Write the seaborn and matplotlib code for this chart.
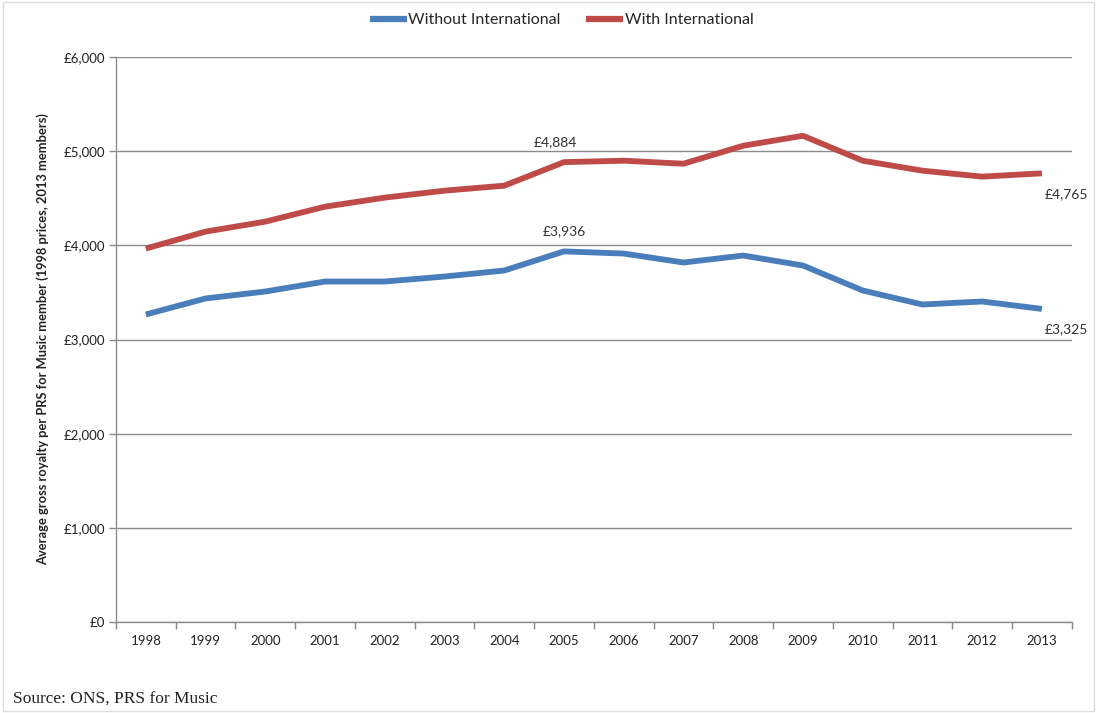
import matplotlib
matplotlib.use("Agg")
import matplotlib.pyplot as plt
from matplotlib.patches import Rectangle
from matplotlib.ticker import FuncFormatter, MultipleLocator
import seaborn as sns
import pandas as pd

years = list(range(1998, 2014))
without_intl = [3266, 3436, 3510, 3616, 3616, 3669, 3733, 3936,
                3913, 3818, 3892, 3786, 3521, 3372, 3404, 3325]
with_intl = [3966, 4146, 4252, 4411, 4507, 4581, 4634, 4884,
             4899, 4867, 5058, 5164, 4899, 4793, 4730, 4765]
series_names = ["Without International", "With International"]
colors = {"Without International": "#4a7ebb", "With International": "#be4b48"}

df = pd.concat([
    pd.DataFrame({"Year": years, "Royalty": without_intl, "Series": series_names[0]}),
    pd.DataFrame({"Year": years, "Royalty": with_intl, "Series": series_names[1]}),
])

sns.set_theme(style="white")
plt.rcParams["font.family"] = ["Lato", "DejaVu Sans"]

fig = plt.figure(figsize=(10.97, 7.13), dpi=100)
ax = fig.add_axes([0.1057, 0.1276, 0.8713, 0.7924])

sns.lineplot(data=df, x="Year", y="Royalty", hue="Series", palette=colors,
             linewidth=4.2, ax=ax, legend=False, solid_capstyle="butt")

ax.set_xlim(1997.5, 2013.5)
ax.set_ylim(0, 6000)
ax.yaxis.set_major_locator(MultipleLocator(1000))
ax.yaxis.set_major_formatter(FuncFormatter(lambda v, p: f"£{int(v):,}"))
ax.set_xticks(years)
ax.set_xticklabels([str(y) for y in years])
ax.xaxis.set_minor_locator(MultipleLocator(1, offset=0.5))
ax.tick_params(axis="x", which="major", length=0, pad=9, labelsize=9.5, colors="#222222")
ax.tick_params(axis="x", which="minor", bottom=True, length=5, width=1, color="#888888")
ax.tick_params(axis="y", which="major", left=True, length=5, width=1, color="#888888",
               labelsize=9.5, colors="#222222", pad=3)
ax.grid(axis="y", color="#8c8c8c", linewidth=1)
ax.set_axisbelow(True)
for side in ["top", "right"]:
    ax.spines[side].set_visible(False)
for side in ["left", "bottom"]:
    ax.spines[side].set_color("#8c8c8c")
    ax.spines[side].set_linewidth(1)

ax.set_xlabel("")
ax.set_ylabel("Average gross royalty per PRS for Music member (1998 prices, 2013 members)",
              fontsize=9.3, fontweight="bold", color="#222222", labelpad=10)

i05 = years.index(2005)
ax.annotate(f"£{with_intl[i05]:,}", (2005, with_intl[i05]), xytext=(-6, 10),
            textcoords="offset points", ha="center", va="bottom", fontsize=10, color="#333333")
ax.annotate(f"£{without_intl[i05]:,}", (2005, without_intl[i05]), xytext=(0, 10),
            textcoords="offset points", ha="center", va="bottom", fontsize=10, color="#333333")
ax.annotate(f"£{with_intl[-1]:,}", (2013, with_intl[-1]), xytext=(2, -11),
            textcoords="offset points", ha="left", va="top", fontsize=10, color="#333333")
ax.annotate(f"£{without_intl[-1]:,}", (2013, without_intl[-1]), xytext=(2, -10),
            textcoords="offset points", ha="left", va="top", fontsize=10, color="#333333")

handles = [plt.Line2D([], [], color=colors[n], linewidth=4.5, solid_capstyle="butt")
           for n in series_names]
fig.legend(handles, series_names, loc="upper center", bbox_to_anchor=(0.512, 1.002),
           ncol=2, frameon=False, fontsize=11.5, handlelength=2.3, handletextpad=0.1,
           columnspacing=1.6)

fig.text(0.012, 0.008, "Source: ONS, PRS for Music", family="Liberation Serif",
         fontsize=12.5, color="#222222", ha="left", va="bottom")

fig.patches.append(Rectangle((0.003, 0.003), 0.994, 0.994, transform=fig.transFigure,
                             fill=False, edgecolor="#dddddd", linewidth=1))

fig.savefig("out.png", dpi=100)
